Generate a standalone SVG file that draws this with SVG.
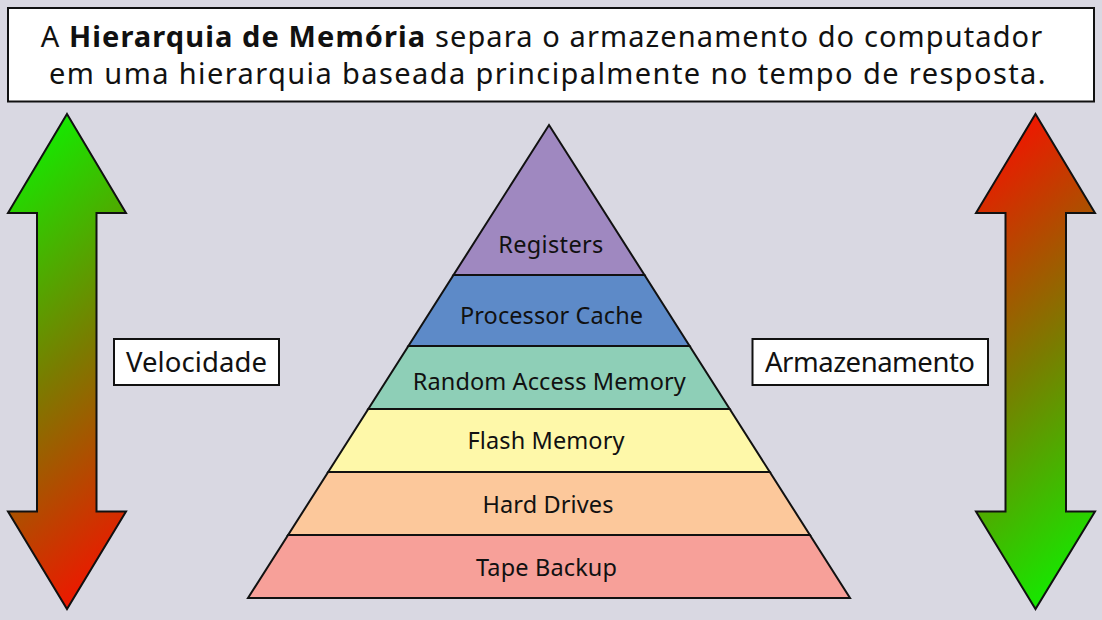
<svg xmlns="http://www.w3.org/2000/svg" width="1102" height="620" viewBox="0 0 1102 620">
<defs>
<linearGradient id="gUp" x1="0.4" y1="0" x2="0.6" y2="1">
<stop offset="0" stop-color="#12ec00"/>
<stop offset="0.5" stop-color="#7a7c00"/>
<stop offset="1" stop-color="#f21400"/>
</linearGradient>
<linearGradient id="gDown" x1="0.4" y1="0" x2="0.6" y2="1">
<stop offset="0" stop-color="#f21400"/>
<stop offset="0.5" stop-color="#7a7c00"/>
<stop offset="1" stop-color="#12ec00"/>
</linearGradient>
<style>
.t{font-family:"Noto Sans","Open Sans","DejaVu Sans",sans-serif;fill:#111;}
.box{fill:#fff;stroke:#111;stroke-width:2;}
.arr{stroke:#111;stroke-width:2;stroke-linejoin:miter;}
.lay{stroke:#111;stroke-width:2;stroke-linejoin:miter;}
.lbl{font-size:23.5px;text-anchor:middle;}
.side{font-size:27.5px;text-anchor:middle;}
</style>
</defs>
<rect width="1102" height="620" fill="#d9d8e2"/>
<g id="title">
<rect class="box" x="8" y="8" width="1086" height="93.5"/>
<text class="t" font-size="29" text-anchor="middle"><tspan x="542" y="47" letter-spacing="1.1">A <tspan font-weight="bold">Hierarquia de Memória</tspan> separa o armazenamento do computador</tspan><tspan x="548" y="83.5" letter-spacing="1.4">em uma hierarquia baseada principalmente no tempo de resposta.</tspan></text>
</g>
<g id="arrow-velocidade">
<path class="arr" fill="url(#gUp)" d="M67,114 L126,213 L96.5,213 L96.5,511.5 L126,511.5 L67,609 L8,511.5 L37,511.5 L37,213 L8,213 Z"/>
</g>
<g id="arrow-armazenamento">
<path class="arr" fill="url(#gDown)" d="M1035.5,114 L1095,213 L1066,213 L1066,511.5 L1095,511.5 L1035.5,609 L976,511.5 L1005.5,511.5 L1005.5,213 L976,213 Z"/>
</g>
<g id="label-velocidade">
<rect class="box" x="114" y="339" width="165" height="46"/>
<text class="t side" x="196.5" y="372" textLength="141" lengthAdjust="spacing">Velocidade</text>
</g>
<g id="label-armazenamento">
<rect class="box" x="752.5" y="339" width="235.5" height="46"/>
<text class="t side" x="870" y="372" textLength="210" lengthAdjust="spacing">Armazenamento</text>
</g>
<g id="layer-registers">
<polygon class="lay" fill="#9f88c0" points="549,125 644.5,275 453.5,275"/>
<text class="t lbl" x="550.8" y="252.5" textLength="105" lengthAdjust="spacing">Registers</text>
</g>
<g id="layer-cache">
<polygon class="lay" fill="#5d8ac8" points="453.5,275 644.5,275 689.6,346 408.4,346"/>
<text class="t lbl" x="551.5" y="323.5" textLength="183" lengthAdjust="spacing">Processor Cache</text>
</g>
<g id="layer-ram">
<polygon class="lay" fill="#8ecfb7" points="408.4,346 689.6,346 729.7,409 368.3,409"/>
<text class="t lbl" x="549.3" y="390" textLength="273" lengthAdjust="spacing">Random Access Memory</text>
</g>
<g id="layer-flash">
<polygon class="lay" fill="#fef8a9" points="368.3,409 729.7,409 769.8,472 328.2,472"/>
<text class="t lbl" x="546" y="449" textLength="157" lengthAdjust="spacing">Flash Memory</text>
</g>
<g id="layer-hdd">
<polygon class="lay" fill="#fcc89b" points="328.2,472 769.8,472 809.9,535 288.1,535"/>
<text class="t lbl" x="548" y="512.5" textLength="131" lengthAdjust="spacing">Hard Drives</text>
</g>
<g id="layer-tape">
<polygon class="lay" fill="#f7a099" points="288.1,535 809.9,535 850,598 248,598"/>
<text class="t lbl" x="546.5" y="575.5" textLength="141" lengthAdjust="spacing">Tape Backup</text>
</g>
<g id="connectors"/>
</svg>
